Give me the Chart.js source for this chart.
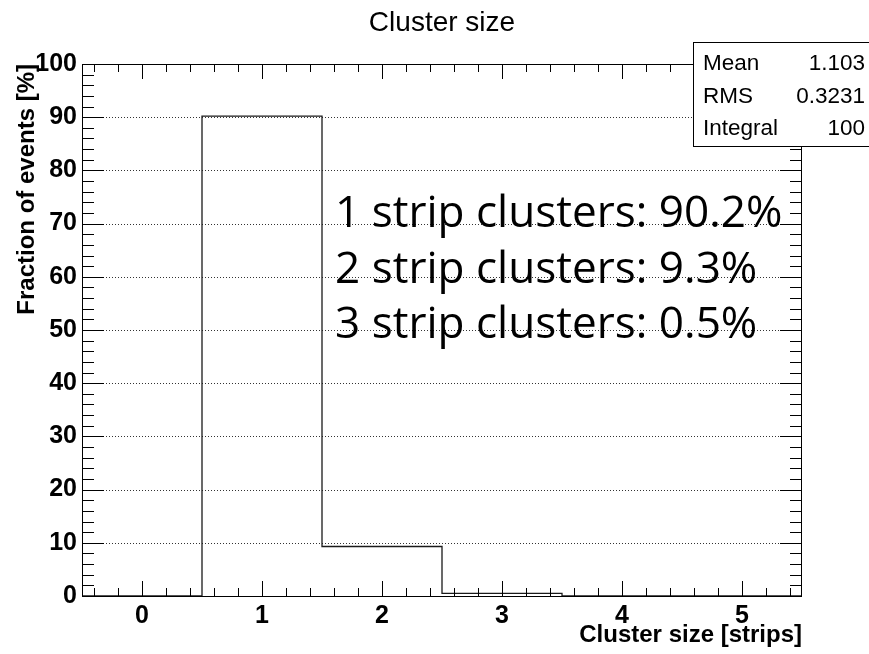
<!DOCTYPE html>
<html>
<head>
<meta charset="utf-8">
<script src="https://cdn.jsdelivr.net/npm/chart.js@4/dist/chart.umd.min.js"></script>
<style>
html, body { margin: 0; padding: 0; background: #fff; }
#wrap { width: 869px; height: 654px; }
</style>
</head>
<body>
<div id="wrap"><canvas id="histo" width="869" height="654"></canvas></div>
<script>
// bin contents
const binCenters = [0, 1, 2, 3, 4, 5];
const fractions = [0, 90.2, 9.3, 0.5, 0, 0];
const xTickValues = [0, 1, 2, 3, 4, 5];
const statNames = ['Mean', 'RMS', 'Integral'];
const statValues = ['1.103', '0.3231', '100'];
const noteBins = [1, 2, 3];

const SANS = '"Liberation Sans", Arial, Helvetica, sans-serif';

// outline of the histogram: low edge of every bin, plus the last high edge
const steps = binCenters.map((c, i) => ({ x: c - 0.5, y: fractions[i] }));
steps.push({ x: binCenters[binCenters.length - 1] + 0.5, y: fractions[fractions.length - 1] });

const rootLook = {
    id: 'rootLook',
    beforeDatasetsDraw(chart) {
        const { ctx, chartArea: a, scales: { y } } = chart;
        ctx.save();
        ctx.strokeStyle = '#333';
        ctx.lineWidth = 1;
        ctx.setLineDash([1, 2]);
        for (let v = 10; v < 100; v += 10) {
            const py = Math.round(y.getPixelForValue(v)) + 0.5;
            ctx.beginPath();
            ctx.moveTo(a.left, py);
            ctx.lineTo(a.right, py);
            ctx.stroke();
        }
        ctx.restore();
    },
    afterDatasetsDraw(chart) {
        const { ctx, chartArea: a, scales: { x, y } } = chart;
        ctx.save();
        ctx.strokeStyle = '#000';
        ctx.lineWidth = 1;

        // frame
        ctx.strokeRect(a.left + 0.5, a.top + 0.5, a.right - a.left - 1, a.bottom - a.top);

        // x ticks, top and bottom (major every 1, minor every 0.2)
        ctx.beginPath();
        for (let k = -2; k <= 27; k++) {
            const v = k / 5;
            const major = k % 5 === 0;
            const len = major ? 15 : 8;
            const px = Math.round(x.getPixelForValue(v)) + 0.5;
            ctx.moveTo(px, a.bottom);
            ctx.lineTo(px, a.bottom - len);
            ctx.moveTo(px, a.top);
            ctx.lineTo(px, a.top + len);
        }
        // y ticks, left and right (major every 10, minor every 2)
        for (let v = 2; v < 100; v += 2) {
            const major = v % 10 === 0;
            const len = major ? 22 : 12;
            const py = Math.round(y.getPixelForValue(v)) + 0.5;
            ctx.moveTo(a.left, py);
            ctx.lineTo(a.left + len, py);
            ctx.moveTo(a.right, py);
            ctx.lineTo(a.right - len, py);
        }
        ctx.stroke();

        // title
        ctx.fillStyle = '#000';
        ctx.font = '28px ' + SANS;
        ctx.textAlign = 'center';
        ctx.textBaseline = 'middle';
        ctx.fillText('Cluster size', (a.left + a.right) / 2, 23);

        // stats box
        ctx.fillStyle = '#fff';
        ctx.fillRect(693.5, 42.5, 200, 104);
        ctx.strokeRect(693.5, 42.5, 200, 104);
        ctx.fillStyle = '#000';
        ctx.font = '22.5px ' + SANS;
        ctx.textBaseline = 'alphabetic';
        statNames.forEach((n, i) => {
            const base = 70 + i * 32.5;
            ctx.textAlign = 'left';
            ctx.fillText(n, 703, base);
            ctx.textAlign = 'right';
            ctx.fillText(statValues[i], 865, base);
        });

        // annotation lines
        const notes = noteBins.map(b => b + ' strip clusters: ' + fractions[binCenters.indexOf(b)] + '%');
        ctx.font = '48px "Open Sans", sans-serif';
        const size = 48 * 448 / ctx.measureText(notes[0]).width;
        ctx.font = size.toFixed(1) + 'px "Open Sans", sans-serif';
        ctx.textAlign = 'left';
        notes.forEach((t, i) => ctx.fillText(t, 335, 227 + i * 55.5));

        ctx.restore();
    }
};

const tickFont = { family: SANS, size: 25, weight: 'bold' };
const titleFont = { family: SANS, size: 24, weight: 'bold' };

new Chart(document.getElementById('histo'), {
    type: 'line',
    data: {
        datasets: [{
            data: steps,
            stepped: 'before',
            borderColor: '#1a1a1a',
            borderWidth: 1.3,
            pointRadius: 0,
            fill: false
        }]
    },
    options: {
        responsive: false,
        animation: false,
        layout: { padding: { top: 64, right: 67, left: 0, bottom: 0 } },
        plugins: {
            legend: { display: false },
            tooltip: { enabled: false },
            title: { display: false }
        },
        scales: {
            x: {
                type: 'linear',
                min: -0.5,
                max: 5.5,
                afterBuildTicks: s => { s.ticks = xTickValues.map(v => ({ value: v })); },
                afterFit: s => { s.height = 58; },
                grid: { display: false, drawTicks: false },
                border: { display: false },
                ticks: { padding: 5, color: '#000', font: tickFont, maxRotation: 0, autoSkip: false },
                title: {
                    display: true,
                    text: 'Cluster size [strips]',
                    align: 'end',
                    color: '#000',
                    font: titleFont,
                    padding: { top: 0, bottom: 4 }
                }
            },
            y: {
                min: 0,
                max: 100,
                afterFit: s => { s.width = 82; },
                grid: { display: false, drawTicks: false },
                border: { display: false },
                ticks: { stepSize: 10, padding: 5, color: '#000', font: tickFont },
                title: {
                    display: true,
                    text: 'Fraction of events [%]',
                    align: 'end',
                    color: '#000',
                    font: titleFont,
                    padding: { top: 13, bottom: 0 }
                }
            }
        }
    },
    plugins: [rootLook]
});
</script>
</body>
</html>
